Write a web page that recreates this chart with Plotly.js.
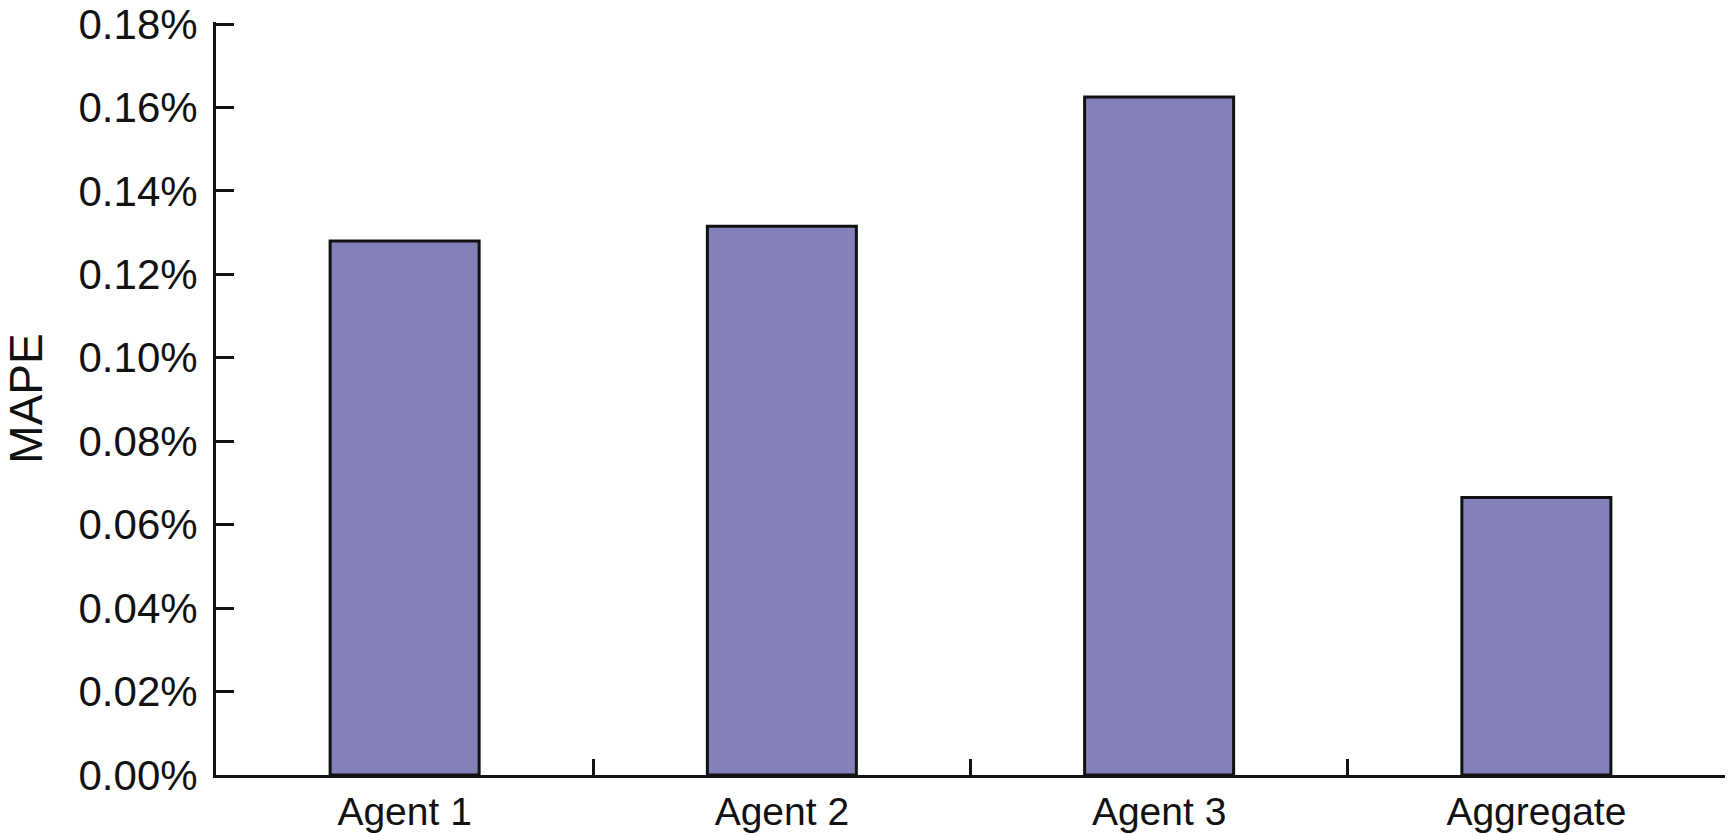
<!DOCTYPE html>
<html>
<head>
<meta charset="utf-8">
<script src="https://cdn.plot.ly/plotly-3.0.1.min.js"></script>
<style>html,body{margin:0;padding:0;background:#fff;}#chart{width:1733px;height:835px;}</style>
</head>
<body>
<div id="chart"></div>
<script>
const categories = ["Agent 1", "Agent 2", "Agent 3", "Aggregate"];
const mapeValues = [0.00128, 0.001315, 0.001625, 0.000665];
const yTickValues = [0, 0.0002, 0.0004, 0.0006, 0.0008, 0.001, 0.0012, 0.0014, 0.0016, 0.0018];

const trace = {
  type: "bar",
  x: categories,
  y: mapeValues,
  marker: { color: "#8480b9", line: { color: "#111111", width: 3 } },
  hoverinfo: "skip"
};

const layout = {
  width: 1733,
  height: 835,
  margin: { l: 216, r: 8, t: 22, b: 60 },
  paper_bgcolor: "#ffffff",
  plot_bgcolor: "#ffffff",
  showlegend: false,
  bargap: 0.605,
  font: { family: "Liberation Sans, Arial, sans-serif", color: "#111111" },
  xaxis: {
    type: "category",
    tickson: "boundaries",
    ticks: "inside",
    ticklen: 16,
    tickwidth: 3,
    tickcolor: "#111111",
    showline: true,
    linewidth: 3,
    linecolor: "#111111",
    showgrid: false,
    zeroline: false,
    tickfont: { size: 39, color: "#111111" },
    ticklabelstandoff: 0
  },
  yaxis: {
    range: [0, 0.0018048],
    tickvals: yTickValues,
    tickformat: ".2%",
    ticks: "inside",
    ticklen: 18,
    tickwidth: 3,
    tickcolor: "#111111",
    showline: true,
    linewidth: 3,
    linecolor: "#111111",
    showgrid: false,
    zeroline: false,
    ticklabeloverflow: "allow",
    tickfont: { size: 42, color: "#111111" },
    ticklabelstandoff: 7,
    title: { text: "MAPE", font: { size: 46, color: "#111111" }, standoff: 26 }
  }
};

Plotly.newPlot("chart", [trace], layout, { displayModeBar: false, staticPlot: true });
</script>
</body>
</html>
